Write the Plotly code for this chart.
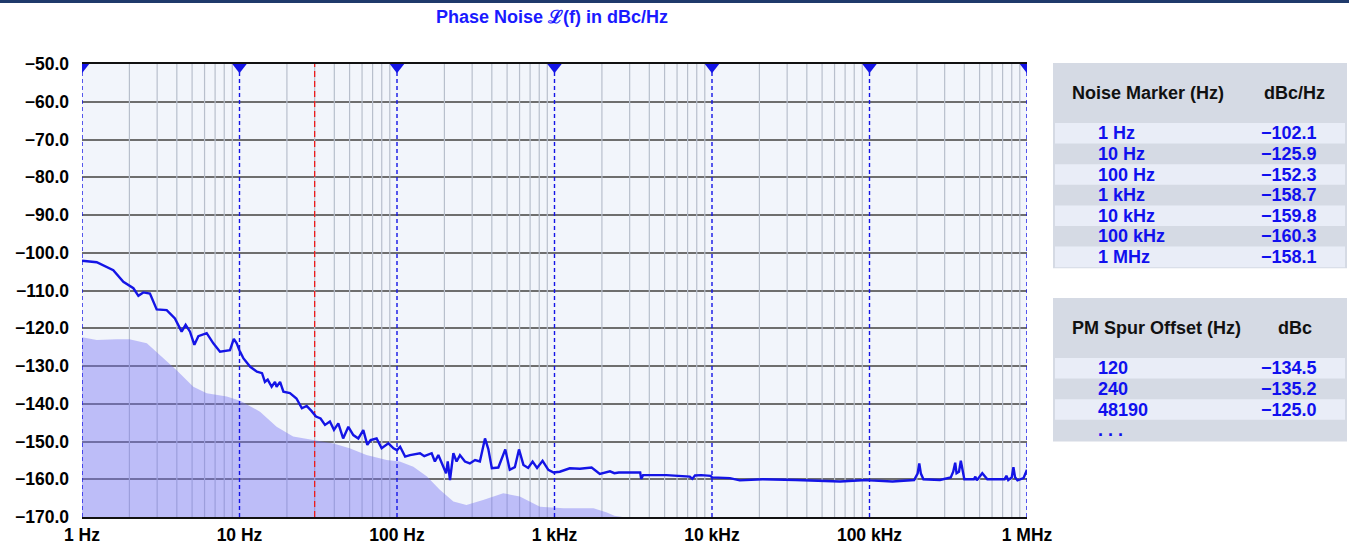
import plotly.graph_objects as go

# ---------------- data ----------------
noise_freq = [1, 1.24, 1.58, 1.83, 2.12, 2.28, 2.45, 2.7, 2.98, 3.45, 3.89, 4.29, 4.55, 4.85,
              5.17, 5.48, 6.19, 6.82, 7.52, 8.7, 9.2, 9.6, 10.0, 10.6, 11.7, 12.9, 13.9, 14.5,
              15.1, 16.0, 16.8, 17.2, 18.1, 19.0, 20.9, 23.0, 24.9, 26.7, 28.6, 30.6, 32.7,
              34.9, 37.5, 39.8, 42.4, 45.5, 49.1, 52.8, 56.8, 61.1, 64.8, 68, 74.2, 79.9,
              88.2, 95, 100, 104.7, 112.6, 121, 140, 149, 166, 174, 183, 197, 205, 210, 217,
              228, 239, 251, 270, 290, 313, 336, 362, 380, 400, 440, 487, 520, 560, 595, 635,
              680, 726, 775, 840, 914, 987, 1080, 1250, 1450, 1720, 1940, 2250, 2400, 2560,
              3150, 3500, 3550, 3650, 5130, 7230, 7500, 7800, 8550, 9800, 10000, 13000, 15000,
              21000, 34000, 65000, 96000, 100000, 140000, 192000, 202000, 207000, 212000,
              220000, 280000, 328000, 340000, 350000, 357000, 370000, 380000, 390000, 400000,
              460000, 470000, 480000, 520000, 560000, 720000, 740000, 760000, 800000, 820000,
              840000, 870000, 950000, 1000000]
noise_dbc = [-102.1, -102.5, -104.6, -107.7, -109.4, -111.4, -110.5, -110.8, -115.0, -115.2,
             -117.4, -120.9, -119.1, -120.9, -124.4, -122.1, -121.3, -124.0, -126.2, -125.8,
             -122.8, -124.0, -125.9, -128.0, -130.2, -131.5, -131.9, -134.2, -133.6, -135.5,
             -134.2, -135.5, -134.2, -136.8, -137.2, -138.6, -141.2, -140.6, -141.9, -143.4,
             -143.9, -145.6, -144.7, -146.9, -145.2, -149.2, -146.1, -148.3, -149.2, -147.0,
             -150.9, -149.6, -149.2, -151.8, -150.5, -151.8, -152.3, -151.4, -154.0, -153.6,
             -153.1, -153.9, -153.1, -155.3, -153.6, -156.7, -158.4, -155.3, -160.2, -153.1,
             -155.3, -153.6, -155.3, -155.8, -154.9, -155.3, -149.2, -152.0, -157.1, -156.9,
             -152.1, -157.5, -156.8, -152.1, -156.2, -157.0, -155.3, -157.0, -155.1, -157.5,
             -158.2, -158.0, -157.1, -157.2, -156.9, -158.6, -157.9, -158.4, -158.2, -158.2,
             -158.2, -159.9, -158.9, -158.9, -159.3, -159.9, -159.0, -158.9, -159.1, -159.5,
             -159.7, -160.3, -160.0, -160.2, -160.6, -160.2, -160.3, -160.6, -160.2, -158.5,
             -155.8, -158.5, -160.0, -160.2, -159.5, -158.0, -155.6, -158.4, -158.0, -155.1,
             -158.0, -160.0, -160.0, -159.3, -160.3, -158.4, -160.0, -160.0, -159.1, -160.2,
             -159.5, -156.8, -159.5, -160.3, -159.7, -157.5]

floor_freq = [1, 1.24, 1.66, 2.0, 2.58, 3.13, 3.99, 5.09, 6.19, 8.3, 10.1, 13.5, 17.2, 21.9,
              29.4, 39.5, 50, 64, 86, 104, 127, 155, 187, 228, 276, 352, 473, 602, 809, 1140,
              1770, 2150, 2400, 2700]
floor_dbc = [-122.4, -123.1, -122.9, -122.9, -124.0, -127.1, -131.1, -135.5, -137.2, -138.1,
             -139.2, -142.1, -146.1, -148.7, -149.6, -150.5, -151.8, -153.6, -154.9, -155.3,
             -156.7, -159.3, -162.8, -165.9, -166.8, -165.5, -163.7, -164.6, -167.3, -167.7,
             -167.7, -168.8, -169.7, -170.0]

marker_freqs = [1, 10, 100, 1e3, 1e4, 1e5, 1e6]
minor_multipliers = [2, 3, 4, 5, 6, 7, 8, 9]
cursor_freq = 30
x_tick_labels = ["1 Hz", "10 Hz", "100 Hz", "1 kHz", "10 kHz", "100 kHz", "1 MHz"]
y_ticks = [-50, -60, -70, -80, -90, -100, -110, -120, -130, -140, -150, -160, -170]
y_tick_labels = ["\u2212%.1f" % abs(v) for v in y_ticks]
y_min, y_max = -170, -50

table1_header = ["Noise Marker (Hz)", "dBc/Hz"]
table1_labels = ["1 Hz", "10 Hz", "100 Hz", "1 kHz", "10 kHz", "100 kHz", "1 MHz"]
table1_values = ["\u2212102.1", "\u2212125.9", "\u2212152.3", "\u2212158.7", "\u2212159.8",
                 "\u2212160.3", "\u2212158.1"]
table2_header = ["PM Spur Offset (Hz)", "dBc"]
table2_labels = ["120", "240", "48190", ". . ."]
table2_values = ["\u2212134.5", "\u2212135.2", "\u2212125.0", ""]

# ---------------- layout helpers ----------------
W, H = 1349, 547
ML, MR, MT, MB = 82, 322, 64, 30
PW = W - ML - MR
PH = H - MT - MB


def px(x):
    return (x - ML) / PW


def py(y):
    return (H - MB - y) / PH


FONT = "Liberation Sans, Arial, sans-serif"
BLUE = "#1414e6"
HDR = "#d5dae4"
LIGHT = "#e9edf7"

fig = go.Figure()

# minor vertical grid lines
gx, gy = [], []
for dec in marker_freqs[:-1]:
    for m in minor_multipliers:
        gx += [dec * m, dec * m, None]
        gy += [y_min, y_max, None]
fig.add_trace(go.Scatter(x=gx, y=gy, mode="lines", line=dict(color="#b8bfcc", width=1.2),
                         hoverinfo="skip", showlegend=False))

# noise floor fill
fig.add_trace(go.Scatter(
    x=floor_freq + [floor_freq[-1], floor_freq[0]],
    y=floor_dbc + [y_min, y_min],
    fill="toself", fillcolor="rgba(117,112,244,0.42)",
    line=dict(width=0), mode="lines", hoverinfo="skip", showlegend=False))

# marker dashed lines
mx, my = [], []
for f in marker_freqs:
    mx += [f, f, None]
    my += [y_min, y_max, None]
fig.add_trace(go.Scatter(x=mx, y=my, mode="lines",
                         line=dict(color=BLUE, width=1.4, dash="4px,3px"),
                         hoverinfo="skip", showlegend=False, cliponaxis=False))
# cursor red line
fig.add_trace(go.Scatter(x=[cursor_freq, cursor_freq], y=[y_min, y_max], mode="lines",
                         line=dict(color="#ee1c1c", width=1.3, dash="6px,4px"),
                         hoverinfo="skip", showlegend=False))

# phase noise curve
fig.add_trace(go.Scatter(x=noise_freq, y=noise_dbc, mode="lines",
                         line=dict(color=BLUE, width=2.4),
                         hoverinfo="skip", showlegend=False))

# triangles at top
fig.add_trace(go.Scatter(x=marker_freqs, y=[y_max - 0.82] * len(marker_freqs),
                         mode="markers",
                         marker=dict(symbol="triangle-down", size=12.5, color=BLUE,
                                     line=dict(width=0)),
                         hoverinfo="skip", showlegend=False, cliponaxis=True))

fig.update_layout(
    width=W, height=H,
    margin=dict(l=ML, r=MR, t=MT, b=MB, autoexpand=False),
    paper_bgcolor="white", plot_bgcolor="#f2f5fb",
    font=dict(family=FONT, color="black"),
    showlegend=False,
)

fig.update_xaxes(
    type="log", range=[0, 6],
    tickvals=marker_freqs, ticktext=x_tick_labels,
    tickfont=dict(size=17.5, weight="bold", color="black", family=FONT),
    ticks="", ticklabelstandoff=1,
    showgrid=False,
    showline=True, linecolor="#111111", linewidth=2, mirror=True,
    zeroline=False, fixedrange=True,
)
fig.update_yaxes(
    range=[y_min, y_max],
    tickvals=y_ticks, ticktext=y_tick_labels,
    tickfont=dict(size=17.5, weight="bold", color="black", family=FONT),
    ticks="", ticklabelstandoff=12,
    showgrid=True, gridcolor="#6e6e6e", gridwidth=1.5,
    showline=False, zeroline=False, fixedrange=True,
)

shapes = []
annotations = []

# top dark bar
shapes.append(dict(type="rect", xref="paper", yref="paper",
                   x0=px(0), x1=px(W), y0=py(3), y1=py(0),
                   fillcolor="#1f3a6b", line=dict(width=0)))

# title
annotations.append(dict(xref="paper", yref="paper", x=px(552), y=py(17),
                        text="Phase Noise \u2112(f) in dBc/Hz", showarrow=False,
                        xanchor="center", yanchor="middle",
                        font=dict(size=18, color="#1a1aff", weight="bold", family=FONT)))


def add_table(top, header, labels, values, col2_x):
    row_h = 20.6
    hdr_h = 60
    bottom = top + hdr_h + row_h * len(labels)
    shapes.append(dict(type="rect", xref="paper", yref="paper",
                       x0=px(1053), x1=px(1347), y0=py(bottom + 1), y1=py(top),
                       fillcolor=HDR, line=dict(width=0)))
    for i in range(len(labels)):
        r0 = top + hdr_h + i * row_h
        if i % 2 == 0:
            shapes.append(dict(type="rect", xref="paper", yref="paper",
                               x0=px(1055), x1=px(1345), y0=py(r0 + row_h), y1=py(r0),
                               fillcolor=LIGHT, line=dict(width=0)))
        cy = r0 + row_h / 2
        annotations.append(dict(xref="paper", yref="paper", x=px(1096), y=py(cy),
                                text=labels[i], showarrow=False, xanchor="left",
                                yanchor="middle",
                                font=dict(size=18, color="#1010ee", weight="bold",
                                          family=FONT)))
        if values[i]:
            annotations.append(dict(xref="paper", yref="paper", x=px(1259), y=py(cy),
                                    text=values[i], showarrow=False, xanchor="left",
                                    yanchor="middle",
                                    font=dict(size=18, color="#1010ee", weight="bold",
                                              family=FONT)))
    hy = top + 30
    annotations.append(dict(xref="paper", yref="paper", x=px(1070), y=py(hy),
                            text=header[0], showarrow=False, xanchor="left",
                            yanchor="middle",
                            font=dict(size=18, color="#111111", weight="bold", family=FONT)))
    annotations.append(dict(xref="paper", yref="paper", x=px(col2_x), y=py(hy),
                            text=header[1], showarrow=False, xanchor="left",
                            yanchor="middle",
                            font=dict(size=18, color="#111111", weight="bold", family=FONT)))


add_table(63, table1_header, table1_labels, table1_values, 1262)
add_table(298, table2_header, table2_labels, table2_values, 1276)

fig.update_layout(shapes=shapes, annotations=annotations)

fig.write_html("out.html", config={"displayModeBar": False},
               post_script="document.body.style.margin='0';document.body.style.overflow='hidden';")
